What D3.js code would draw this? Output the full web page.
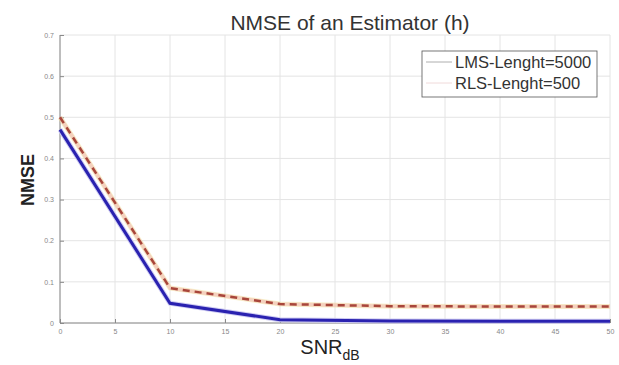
<!DOCTYPE html>
<html>
<head>
<meta charset="utf-8">
<script src="https://cdn.jsdelivr.net/npm/d3@7"></script>
<style>
  body { margin: 0; background: #fff; }
  svg { font-family: "Liberation Sans", Arial, sans-serif; }
  .grid line { stroke: #e4e4e4; stroke-width: 1; }
  .axis path, .axis line { stroke: #8a8a8a; }
  .axis text { fill: #888; font-size: 7px; }
</style>
</head>
<body>
<div class="graph"></div>
<script>
var snr = [0, 10, 20, 30, 40, 50],
    lmsNmse = [0.47, 0.048, 0.008, 0.005, 0.004, 0.004],
    rlsNmse = [0.50, 0.085, 0.046, 0.041, 0.040, 0.040],
    xTicks = [0, 5, 10, 15, 20, 25, 30, 35, 40, 45, 50],
    yTicks = [0, 0.1, 0.2, 0.3, 0.4, 0.5, 0.6, 0.7],
    legendLabels = ["LMS-Lenght=5000", "RLS-Lenght=500"];

var options = { width: 619, height: 365 },
    margin = { top: 35, left: 60, right: 9, bottom: 42 };

var svg = d3.select(".graph").append("svg")
    .attr("width", options.width)
    .attr("height", options.height);

var xScale = d3.scaleLinear()
    .domain([0, 50])
    .range([margin.left, options.width - margin.right]);
var yScale = d3.scaleLinear()
    .domain([0, 0.7])
    .range([options.height - margin.bottom, margin.top]);

// grid
var grid = svg.append("g").attr("class", "grid");
grid.selectAll(".gx").data(xTicks).enter().append("line")
    .attr("x1", function(d) { return xScale(d); })
    .attr("x2", function(d) { return xScale(d); })
    .attr("y1", yScale(0))
    .attr("y2", yScale(0.7));
grid.selectAll(".gy").data(yTicks).enter().append("line")
    .attr("x1", xScale(0))
    .attr("x2", xScale(50))
    .attr("y1", function(d) { return yScale(d); })
    .attr("y2", function(d) { return yScale(d); });

var xAxis = d3.axisBottom(xScale).tickValues(xTicks).tickSize(-4).tickPadding(6),
    yAxis = d3.axisLeft(yScale).tickValues(yTicks).tickSize(-4).tickPadding(6)
      .tickFormat(function(d) { return d === 0 ? "0" : d3.format(".1f")(d); });

svg.append("g")
    .attr("class", "x axis")
    .attr("transform", "translate(0," + yScale(0) + ")")
    .call(xAxis)
    .call(function(g) { g.select(".domain").remove(); });

svg.append("g")
    .attr("class", "y axis")
    .attr("transform", "translate(" + xScale(0) + ",0)")
    .call(yAxis)
    .call(function(g) { g.select(".domain").remove(); });

svg.append("line")
    .attr("x1", xScale(0)).attr("x2", xScale(50))
    .attr("y1", yScale(0)).attr("y2", yScale(0))
    .attr("stroke", "#8a8a8a");
svg.append("line")
    .attr("x1", xScale(0)).attr("x2", xScale(0))
    .attr("y1", yScale(0)).attr("y2", yScale(0.7))
    .attr("stroke", "#8a8a8a");

var line = d3.line()
    .x(function(d) { return xScale(d[0]); })
    .y(function(d) { return yScale(d[1]); });

var lmsData = d3.zip(snr, lmsNmse),
    rlsData = d3.zip(snr, rlsNmse);

// RLS: dashed red/dark with yellowish halo
svg.append("path").datum(rlsData)
    .attr("d", line).attr("fill", "none")
    .attr("stroke", "#f3e3a0").attr("stroke-width", 5).attr("opacity", 0.55);
svg.append("path").datum(rlsData)
    .attr("d", line).attr("fill", "none")
    .attr("stroke", "#f0b0b0").attr("stroke-width", 3.5).attr("opacity", 0.5);
svg.append("path").datum(rlsData)
    .attr("d", line).attr("fill", "none")
    .attr("stroke", "#a8463a").attr("stroke-width", 2.5)
    .attr("stroke-dasharray", "7,5");

// LMS: solid blue
svg.append("path").datum(lmsData)
    .attr("d", line).attr("fill", "none")
    .attr("stroke", "#cfccf2").attr("stroke-width", 5);
svg.append("path").datum(lmsData)
    .attr("d", line).attr("fill", "none")
    .attr("stroke", "#2a22b0").attr("stroke-width", 3);

// legend
var legend = svg.append("g").attr("transform", "translate(422,51)");
legend.append("rect")
    .attr("width", 175).attr("height", 46)
    .attr("fill", "#fff").attr("stroke", "#555").attr("stroke-width", 0.8);
legend.selectAll(".entry").data(legendLabels).enter().append("g")
    .attr("transform", function(d, i) { return "translate(0," + (11 + i * 21) + ")"; })
    .each(function(d, i) {
      var g = d3.select(this);
      g.append("line").attr("x1", 4).attr("x2", 30)
        .attr("stroke", i === 0 ? "#999" : "#ecd0d0").attr("stroke-width", 0.8);
      g.append("text").attr("x", 33).attr("dy", "0.35em")
        .attr("font-size", "16.5px").attr("fill", "#333").text(d);
    });

// title and labels
svg.append("text")
    .attr("x", 350).attr("y", 30)
    .attr("text-anchor", "middle")
    .attr("font-size", "21px").attr("fill", "#333")
    .text("NMSE of an Estimator (h)");

var xl = svg.append("text")
    .attr("x", 330).attr("y", 354)
    .attr("text-anchor", "middle")
    .attr("font-size", "20px").attr("fill", "#222");
xl.append("tspan").text("SNR");
xl.append("tspan").attr("dy", 6).attr("font-size", "14px").text("dB");

svg.append("text")
    .attr("transform", "translate(34,180) rotate(-90)")
    .attr("text-anchor", "middle")
    .attr("font-size", "18px").attr("font-weight", "bold").attr("fill", "#222")
    .text("NMSE");
</script>
</body>
</html>
